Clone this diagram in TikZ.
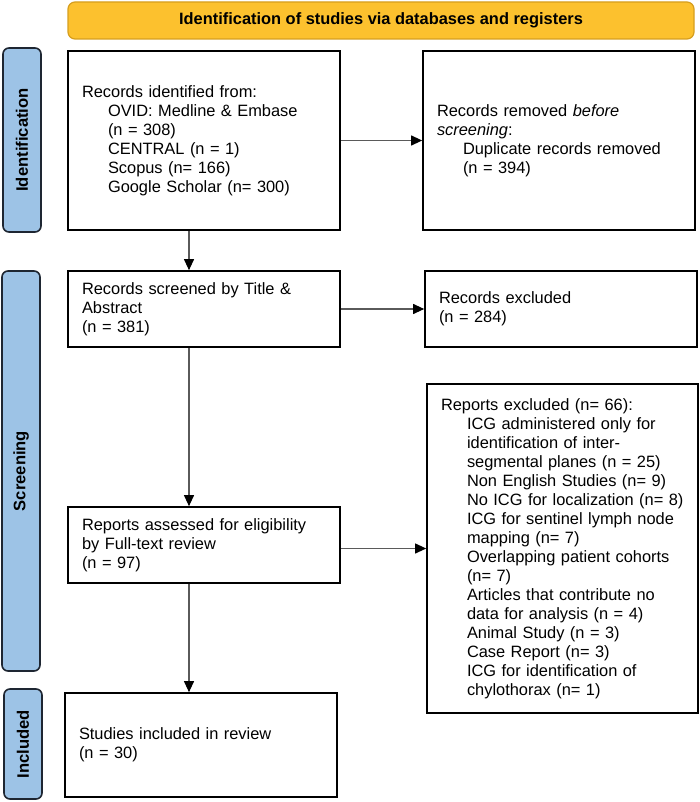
\documentclass[tikz,border=0pt]{standalone}
\usepackage{fontspec}
\setmainfont{Liberation Sans}
\usetikzlibrary{arrows.meta}
\definecolor{bannerfill}{RGB}{252,193,46}
\definecolor{bannerdraw}{RGB}{214,158,30}
\definecolor{sidefill}{RGB}{157,195,230}
\definecolor{sidedraw}{RGB}{30,38,50}
\definecolor{linegray}{RGB}{90,90,90}
\newcommand{\ind}{\hspace*{26pt}}
\tikzset{
  txt/.style={font=\fontsize{16.4}{19}\selectfont},
  box/.style={txt, draw=black, line width=1.7pt, fill=white, align=left, inner xsep=14pt, inner ysep=0pt},
  sidebar/.style={draw=sidedraw, fill=sidefill, line width=1.6pt, rounded corners=6pt, rotate=90,
    font=\fontsize{16.6}{19}\selectfont\bfseries, inner sep=0pt},
  banner/.style={draw=bannerdraw, fill=bannerfill, line width=1.2pt, rounded corners=7pt,
    font=\fontsize{16.4}{19}\selectfont\bfseries, inner sep=0pt},
  arr/.style={draw=linegray, line width=1.1pt, -{Triangle[length=11pt,width=10pt,color=black]}}
}
\begin{document}
\begin{tikzpicture}[x=1pt,y=-1pt]
\useasboundingbox (0,0) rectangle (700,802);

\node[banner, minimum width=626pt, minimum height=37pt] (ban) at (381,20.5) {Identification of studies via databases and registers};

\node[sidebar, minimum width=184pt, minimum height=38pt] (sid1) at (22,140) {Identification};
\node[sidebar, minimum width=400pt, minimum height=38pt] (sid2) at (21,471) {Screening};
\node[sidebar, minimum width=110pt, minimum height=38pt] (sid3) at (23,744) {Included};

\node[box, minimum width=272pt, minimum height=179pt, text width=244pt] (b1) at (204,140.5) {Records identified from:\\
\ind OVID: Medline \& Embase\\
\ind (n = 308)\\
\ind CENTRAL (n = 1)\\
\ind Scopus (n= 166)\\
\ind Google Scholar (n= 300)};

\node[box, minimum width=272pt, minimum height=179pt, text width=244pt] (b2) at (559,140.5) {Records removed \textit{before}\\
\textit{screening}:\\
\ind Duplicate records removed\\
\ind (n = 394)};

\node[box, minimum width=272pt, minimum height=76pt, text width=244pt] (b3) at (204,309) {Records screened by Title \&\\
Abstract\\
(n = 381)};

\node[box, minimum width=272pt, minimum height=76pt, text width=244pt] (b4) at (561,309) {Records excluded\\
(n = 284)};

\node[box, minimum width=271pt, minimum height=329pt, text width=243pt] (b5) at (562.5,548.5) {Reports excluded (n= 66):\\
\ind ICG administered only for\\
\ind identification of inter-\\
\ind segmental planes (n = 25)\\
\ind Non English Studies (n= 9)\\
\ind No ICG for localization (n= 8)\\
\ind ICG for sentinel lymph node\\
\ind mapping (n= 7)\\
\ind Overlapping patient cohorts\\
\ind (n= 7)\\
\ind Articles that contribute no\\
\ind data for analysis (n = 4)\\
\ind Animal Study (n = 3)\\
\ind Case Report (n= 3)\\
\ind ICG for identification of\\
\ind chylothorax (n= 1)};

\node[box, minimum width=272pt, minimum height=76pt, text width=244pt] (b6) at (204,545) {Reports assessed for eligibility\\
by Full-text review\\
(n = 97)};

\node[box, minimum width=272pt, minimum height=104pt, text width=244pt] (b7) at (201,745) {Studies included in review\\
(n = 30)};

\coordinate (ax) at (189,0);
\draw[arr] (b1.south -| ax) -- (b3.north -| ax);
\draw[arr] (b3.south -| ax) -- (b6.north -| ax);
\draw[arr] (b6.south -| ax) -- (b7.north -| ax);
\draw[arr] (b1.east) -- (b2.west);
\draw[arr] (b3.east) -- (b4.west);
\draw[arr] (b6.east |- b5.west) -- (b5.west);
\end{tikzpicture}
\end{document}
